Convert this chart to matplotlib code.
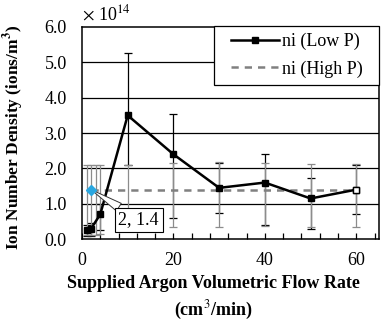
import numpy as np
import matplotlib
matplotlib.use("Agg")
import matplotlib.pyplot as plt
from matplotlib.ticker import MultipleLocator, FormatStrFormatter
from matplotlib.legend_handler import HandlerLine2D

plt.rcParams["font.family"] = ["Liberation Serif", "DejaVu Serif"]
plt.rcParams["mathtext.fontset"] = "stix"

# --- data (units of 1e14 ions/m^3) ---
low_x = [1, 2, 4, 10, 20, 30, 40, 50, 60]
low_y = [0.25, 0.30, 0.70, 3.50, 2.40, 1.45, 1.60, 1.15, 1.40]
low_lo = [0.10, 0.10, 0.25, 2.10, 0.60, 0.75, 0.40, 0.28, 0.70]
low_hi = [0.40, 0.45, 1.00, 5.25, 3.55, 2.15, 2.41, 1.74, 2.10]

# gray error bars (High P)
high_ex = [1, 2, 3, 4, 10, 20, 30, 40, 50, 60]
high_ey = [1.4] * 10
high_lo = [0.12, 0.12, 0.12, 0.15, 0.35, 0.35, 0.35, 0.38, 0.35, 0.35]
high_hi = [2.10, 2.10, 2.10, 2.10, 2.10, 2.16, 2.18, 2.15, 2.12, 2.12]

# dashed High P line
high_x = [2, 60]
high_y = [1.4, 1.4]

fig = plt.figure(figsize=(3.83, 3.21), dpi=100)
ax = fig.add_axes([0.214, 0.255, 0.776, 0.661])

GRAY = "#808080"
FS = 13
ax.set_xlim(0, 65)
ax.set_ylim(0, 6)
for yv in range(1, 6):
    ax.axhline(yv, color="black", lw=0.9, zorder=1)

# black error bars (under the gray ones)
ly = np.array(low_y)
ax.errorbar(low_x, ly, yerr=[ly - np.array(low_lo), np.array(low_hi) - ly],
            fmt="none", ecolor="black", elinewidth=0.9, capsize=3, capthick=0.9, zorder=2)

# gray error bars
hy = np.array(high_ey)
ax.errorbar(high_ex, hy, yerr=[hy - np.array(high_lo), np.array(high_hi) - hy],
            fmt="none", ecolor="#8c8c8c", elinewidth=0.9, capsize=3, capthick=0.9, zorder=3)

l2, = ax.plot(high_x, high_y, color=GRAY, lw=1.8, dashes=(2.9, 2.4), zorder=3,
              label="ni (High P)  ")
l1, = ax.plot(low_x, low_y, color="black", lw=1.8, marker="s", ms=4.5, zorder=4,
              label="ni (Low P)  ")
ax.plot(low_x[-1], low_y[-1], marker="s", ms=4.5, mfc="white", mec="black", mew=1.0, zorder=5)

# highlighted point with callout
ax.annotate(f"{high_x[0]}, {high_y[0]}", xy=(high_x[0], high_y[0]), xytext=(12.4, 0.55),
            ha="center", va="center", fontsize=FS,
            bbox=dict(boxstyle="square,pad=0.2", fc="white", ec="black", lw=0.8),
            arrowprops=dict(arrowstyle="wedge,tail_width=0.5,shrink_factor=0.5",
                            fc="white", ec="0.2", lw=0.7, shrinkA=0, shrinkB=0),
            zorder=7)
ax.plot(high_x[0], high_y[0], marker="D", ms=5.5, color="#2aa7e0", mec="#2aa7e0", zorder=8)

ax.xaxis.set_major_locator(MultipleLocator(20))
ax.xaxis.set_minor_locator(MultipleLocator(4))
ax.yaxis.set_major_locator(MultipleLocator(1))
ax.yaxis.set_major_formatter(FormatStrFormatter("%.1f"))
ax.tick_params(axis="x", which="both", direction="in", length=4, width=0.9, pad=9, labelsize=FS)
ax.tick_params(axis="y", length=0, pad=11, labelsize=FS)
for sp in ax.spines.values():
    sp.set_linewidth(1.1)

ax.set_ylabel("Ion Number Density (ions/m$^\\mathbf{3}$)", fontsize=12.5, fontweight="bold")
ax.yaxis.set_label_coords(-0.188, 0.48)
fig.text(0.558, 0.071, "Supplied Argon Volumetric Flow Rate\n(cm$^3$/min)", ha="center", va="center",
         fontsize=FS, fontweight="bold", linespacing=1.4)
fig.text(0.214, 0.955, "$\\times$ 10$^{14}$", ha="left", va="center", fontsize=FS)

hmap = {l1: HandlerLine2D(xpad=0.55), l2: HandlerLine2D(xpad=0.55)}
leg = ax.legend(handles=[l1, l2], loc="upper right", bbox_to_anchor=(1.0, 1.005),
                borderaxespad=0, fancybox=False, framealpha=1, edgecolor="black",
                fontsize=FS, handlelength=3.2, handletextpad=0.17, borderpad=0.4,
                labelspacing=0.55, handler_map=hmap)
leg.get_frame().set_linewidth(0.9)
leg.set_zorder(10)

fig.savefig("out.png", dpi=100)
